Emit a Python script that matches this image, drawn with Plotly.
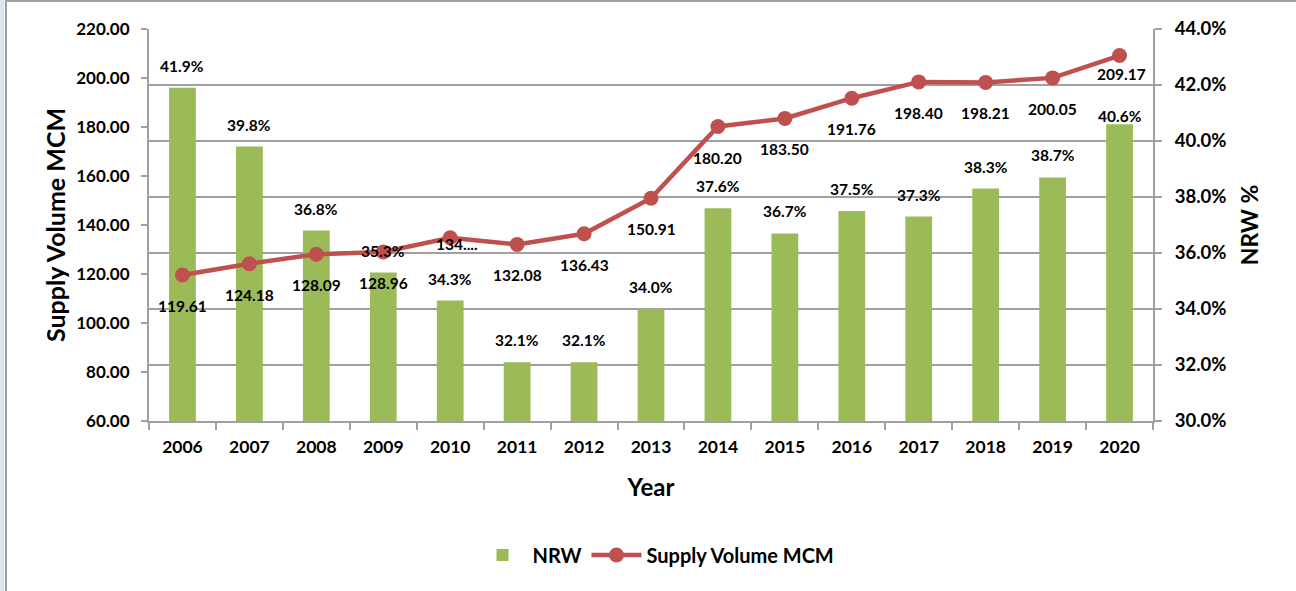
import plotly.graph_objects as go

years = ["2006", "2007", "2008", "2009", "2010", "2011", "2012", "2013",
         "2014", "2015", "2016", "2017", "2018", "2019", "2020"]
nrw_pct = [41.9, 39.8, 36.8, 35.3, 34.3, 32.1, 32.1, 34.0,
           37.6, 36.7, 37.5, 37.3, 38.3, 38.7, 40.6]
supply_mcm = [119.61, 124.18, 128.09, 128.96, 134.80, 132.08, 136.43, 150.91,
              180.20, 183.50, 191.76, 198.40, 198.21, 200.05, 209.17]
supply_labels = ["119.61", "124.18", "128.09", "128.96", "134....", "132.08", "136.43", "150.91",
                 "180.20", "183.50", "191.76", "198.40", "198.21", "200.05", "209.17"]

FONT = "Lato"
GREEN = "#9BBB59"
RED = "#C0504D"
GRID = "#A0A0A0"

# plot area in pixels
L, R, T, B = 149, 1153, 29, 421
PW, PH = R - L, B - T


def px_x(p):
    return (p - L) / PW


def px_y(p):
    return (B - p) / PH


fig = go.Figure()
fig.add_trace(go.Bar(
    x=years, y=nrw_pct, name="NRW", marker=dict(color=GREEN, line=dict(width=0)),
    yaxis="y", width=0.4,
))
fig.add_trace(go.Scatter(
    x=years, y=supply_mcm, name="Supply Volume MCM", mode="lines+markers",
    line=dict(color=RED, width=4.5), marker=dict(color=RED, size=15),
    yaxis="y2",
))

LABEL_FONT = dict(family=FONT, size=15.5, color="black", weight=700)
anns = []
bar_shift = {"2020": 8}
for i, (yr, v) in enumerate(zip(years, nrw_pct)):
    anns.append(dict(x=i, y=v, xref="x", yref="y", text=f"{v:.1f}%", showarrow=False,
                     yshift=bar_shift.get(yr, 22), font=LABEL_FONT))
line_shift = {"2010": (7, -6), "2020": (2, -18)}
for i, (yr, v, lab) in enumerate(zip(years, supply_mcm, supply_labels)):
    dx, dy = line_shift.get(yr, (0, -31))
    anns.append(dict(x=i, y=v, xref="x", yref="y2", text=lab, showarrow=False,
                     xshift=dx, yshift=dy, font=LABEL_FONT))

fig.update_layout(
    width=1296, height=591,
    margin=dict(l=L, r=1296 - R, t=T, b=591 - B),
    paper_bgcolor="white", plot_bgcolor="white",
    font=dict(family=FONT, size=15, color="black", weight=700),
    showlegend=True,
    legend=dict(orientation="h", x=px_x(656), xanchor="center", y=px_y(555), yanchor="middle",
                font=dict(family=FONT, size=20, color="black", weight=700),
                traceorder="normal", itemwidth=50),
    xaxis=dict(type="category", range=[-0.5, 14.5], showline=True, linecolor=GRID, linewidth=2,
               ticks="outside", tickson="boundaries", ticklen=7, tickcolor=GRID, tickwidth=2,
               tickangle=0, ticklabelstandoff=9,
               tickfont=dict(family=FONT, size=17.5, color="black", weight=700),
               title=dict(text="Year", font=dict(family=FONT, size=24, color="black", weight=700), standoff=23),
               showgrid=False),
    yaxis=dict(side="right", range=[30, 44], dtick=2, tickformat=".1f", ticksuffix="%",
               showline=True, linecolor=GRID, linewidth=2,
               ticks="outside", ticklen=7, tickcolor=GRID, tickwidth=2, ticklabelstandoff=9,
               showgrid=True, gridcolor=GRID, gridwidth=2, zeroline=False,
               tickfont=dict(family=FONT, size=18.5, color="black", weight=700),
               title=dict(text="NRW %", font=dict(family=FONT, size=23, color="black", weight=700), standoff=16)),
    yaxis2=dict(side="left", overlaying="y", range=[60, 220], dtick=20, tickformat=".2f",
                showline=True, linecolor=GRID, linewidth=2,
                ticks="outside", ticklen=6, tickcolor=GRID, tickwidth=2, ticklabelstandoff=8,
                showgrid=False, zeroline=False,
                tickfont=dict(family=FONT, size=17, color="black", weight=700),
                title=dict(text="Supply Volume MCM", font=dict(family=FONT, size=25, color="black", weight=700), standoff=4)),
    annotations=anns,
    shapes=[
        dict(type="rect", xref="paper", yref="paper", x0=px_x(0), x1=px_x(4.5),
             y0=px_y(0), y1=px_y(591), fillcolor="#DCE6EE", line=dict(width=0), layer="below"),
        dict(type="line", xref="paper", yref="paper", x0=px_x(6), x1=px_x(6),
             y0=px_y(0), y1=px_y(591), line=dict(color="#A0A0A0", width=2)),
        dict(type="line", xref="paper", yref="paper", x0=px_x(6), x1=px_x(1296),
             y0=px_y(1), y1=px_y(1), line=dict(color="#A0A0A0", width=2)),
    ],
)

fig.write_html("out.html", config={"displayModeBar": False},
               post_script="document.body.style.margin='0';document.body.style.overflow='hidden';")
